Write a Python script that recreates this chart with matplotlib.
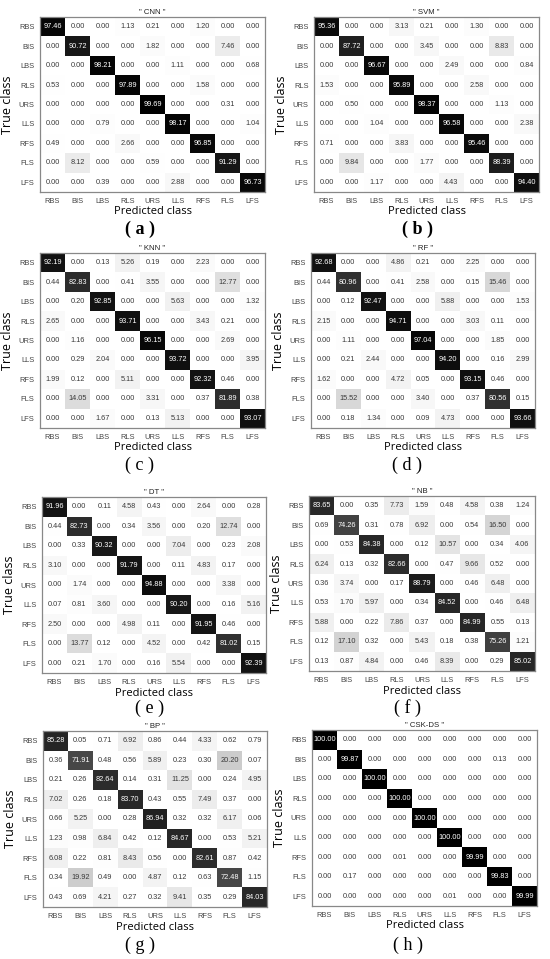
import numpy as np
import matplotlib
matplotlib.use("Agg")
import matplotlib.pyplot as plt

classes = ["RBS", "BIS", "LBS", "RLS", "URS", "LLS", "RFS", "FLS", "LFS"]

cnn = [
    [97.46, 0.00, 0.00, 1.13, 0.21, 0.00, 1.20, 0.00, 0.00],
    [0.00, 90.72, 0.00, 0.00, 1.82, 0.00, 0.00, 7.46, 0.00],
    [0.00, 0.00, 98.21, 0.00, 0.00, 1.11, 0.00, 0.00, 0.68],
    [0.53, 0.00, 0.00, 97.89, 0.00, 0.00, 1.58, 0.00, 0.00],
    [0.00, 0.00, 0.00, 0.00, 99.69, 0.00, 0.00, 0.31, 0.00],
    [0.00, 0.00, 0.79, 0.00, 0.00, 98.17, 0.00, 0.00, 1.04],
    [0.49, 0.00, 0.00, 2.66, 0.00, 0.00, 96.85, 0.00, 0.00],
    [0.00, 8.12, 0.00, 0.00, 0.59, 0.00, 0.00, 91.29, 0.00],
    [0.00, 0.00, 0.39, 0.00, 0.00, 2.88, 0.00, 0.00, 96.73],
]
svm = [
    [95.36, 0.00, 0.00, 3.13, 0.21, 0.00, 1.30, 0.00, 0.00],
    [0.00, 87.72, 0.00, 0.00, 3.45, 0.00, 0.00, 8.83, 0.00],
    [0.00, 0.00, 96.67, 0.00, 0.00, 2.49, 0.00, 0.00, 0.84],
    [1.53, 0.00, 0.00, 95.89, 0.00, 0.00, 2.58, 0.00, 0.00],
    [0.00, 0.50, 0.00, 0.00, 98.37, 0.00, 0.00, 1.13, 0.00],
    [0.00, 0.00, 1.04, 0.00, 0.00, 96.58, 0.00, 0.00, 2.38],
    [0.71, 0.00, 0.00, 3.83, 0.00, 0.00, 95.46, 0.00, 0.00],
    [0.00, 9.84, 0.00, 0.00, 1.77, 0.00, 0.00, 88.39, 0.00],
    [0.00, 0.00, 1.17, 0.00, 0.00, 4.43, 0.00, 0.00, 94.40],
]
knn = [
    [92.19, 0.00, 0.13, 5.26, 0.19, 0.00, 2.23, 0.00, 0.00],
    [0.44, 82.83, 0.00, 0.41, 3.55, 0.00, 0.00, 12.77, 0.00],
    [0.00, 0.20, 92.85, 0.00, 0.00, 5.63, 0.00, 0.00, 1.32],
    [2.65, 0.00, 0.00, 93.71, 0.00, 0.00, 3.43, 0.21, 0.00],
    [0.00, 1.16, 0.00, 0.00, 96.15, 0.00, 0.00, 2.69, 0.00],
    [0.00, 0.29, 2.04, 0.00, 0.00, 93.72, 0.00, 0.00, 3.95],
    [1.99, 0.12, 0.00, 5.11, 0.00, 0.00, 92.32, 0.46, 0.00],
    [0.00, 14.05, 0.00, 0.00, 3.31, 0.00, 0.37, 81.89, 0.38],
    [0.00, 0.00, 1.67, 0.00, 0.13, 5.13, 0.00, 0.00, 93.07],
]
rf = [
    [92.68, 0.00, 0.00, 4.86, 0.21, 0.00, 2.25, 0.00, 0.00],
    [0.44, 80.96, 0.00, 0.41, 2.58, 0.00, 0.15, 15.46, 0.00],
    [0.00, 0.12, 92.47, 0.00, 0.00, 5.88, 0.00, 0.00, 1.53],
    [2.15, 0.00, 0.00, 94.71, 0.00, 0.00, 3.03, 0.11, 0.00],
    [0.00, 1.11, 0.00, 0.00, 97.04, 0.00, 0.00, 1.85, 0.00],
    [0.00, 0.21, 2.44, 0.00, 0.00, 94.20, 0.00, 0.16, 2.99],
    [1.62, 0.00, 0.00, 4.72, 0.05, 0.00, 93.15, 0.46, 0.00],
    [0.00, 15.52, 0.00, 0.00, 3.40, 0.00, 0.37, 80.56, 0.15],
    [0.00, 0.18, 1.34, 0.00, 0.09, 4.73, 0.00, 0.00, 93.66],
]
dt = [
    [91.96, 0.00, 0.11, 4.58, 0.43, 0.00, 2.64, 0.00, 0.28],
    [0.44, 82.73, 0.00, 0.34, 3.56, 0.00, 0.20, 12.74, 0.00],
    [0.00, 0.33, 90.32, 0.00, 0.00, 7.04, 0.00, 0.23, 2.08],
    [3.10, 0.00, 0.00, 91.79, 0.00, 0.11, 4.83, 0.17, 0.00],
    [0.00, 1.74, 0.00, 0.00, 94.88, 0.00, 0.00, 3.38, 0.00],
    [0.07, 0.81, 3.60, 0.00, 0.00, 90.20, 0.00, 0.16, 5.16],
    [2.50, 0.00, 0.00, 4.98, 0.11, 0.00, 91.95, 0.46, 0.00],
    [0.00, 13.77, 0.12, 0.00, 4.52, 0.00, 0.42, 81.02, 0.15],
    [0.00, 0.21, 1.70, 0.00, 0.16, 5.54, 0.00, 0.00, 92.39],
]
nb = [
    [83.65, 0.00, 0.35, 7.73, 1.59, 0.48, 4.58, 0.38, 1.24],
    [0.69, 74.26, 0.31, 0.78, 6.92, 0.00, 0.54, 16.50, 0.00],
    [0.00, 0.53, 84.38, 0.00, 0.12, 10.57, 0.00, 0.34, 4.06],
    [6.24, 0.13, 0.32, 82.66, 0.00, 0.47, 9.66, 0.52, 0.00],
    [0.36, 3.74, 0.00, 0.17, 88.79, 0.00, 0.46, 6.48, 0.00],
    [0.53, 1.70, 5.97, 0.00, 0.34, 84.52, 0.00, 0.46, 6.48],
    [5.88, 0.00, 0.22, 7.86, 0.37, 0.00, 84.99, 0.55, 0.13],
    [0.12, 17.10, 0.32, 0.00, 5.43, 0.18, 0.38, 75.26, 1.21],
    [0.13, 0.87, 4.84, 0.00, 0.46, 8.39, 0.00, 0.29, 85.02],
]
bp = [
    [85.28, 0.05, 0.71, 6.92, 0.86, 0.44, 4.33, 0.62, 0.79],
    [0.36, 71.91, 0.48, 0.56, 5.89, 0.23, 0.30, 20.20, 0.07],
    [0.21, 0.26, 82.64, 0.14, 0.31, 11.25, 0.00, 0.24, 4.95],
    [7.02, 0.26, 0.18, 83.70, 0.43, 0.55, 7.49, 0.37, 0.00],
    [0.66, 5.25, 0.00, 0.28, 86.94, 0.32, 0.32, 6.17, 0.06],
    [1.23, 0.98, 6.84, 0.42, 0.12, 84.67, 0.00, 0.53, 5.21],
    [6.08, 0.22, 0.81, 8.43, 0.56, 0.00, 82.61, 0.87, 0.42],
    [0.34, 19.92, 0.49, 0.00, 4.87, 0.12, 0.63, 72.48, 1.15],
    [0.43, 0.69, 4.21, 0.27, 0.32, 9.41, 0.35, 0.29, 84.03],
]
cskds = [
    [100.00, 0.00, 0.00, 0.00, 0.00, 0.00, 0.00, 0.00, 0.00],
    [0.00, 99.87, 0.00, 0.00, 0.00, 0.00, 0.00, 0.13, 0.00],
    [0.00, 0.00, 100.00, 0.00, 0.00, 0.00, 0.00, 0.00, 0.00],
    [0.00, 0.00, 0.00, 100.00, 0.00, 0.00, 0.00, 0.00, 0.00],
    [0.00, 0.00, 0.00, 0.00, 100.00, 0.00, 0.00, 0.00, 0.00],
    [0.00, 0.00, 0.00, 0.00, 0.00, 100.00, 0.00, 0.00, 0.00],
    [0.00, 0.00, 0.00, 0.01, 0.00, 0.00, 99.99, 0.00, 0.00],
    [0.00, 0.17, 0.00, 0.00, 0.00, 0.00, 0.00, 99.83, 0.00],
    [0.00, 0.00, 0.00, 0.00, 0.00, 0.01, 0.00, 0.00, 99.99],
]

model_names = ["CNN", "SVM", "KNN", "RF", "DT", "NB", "BP", "CSK-DS"]
panel_letters = ["a", "b", "c", "d", "e", "f", "g", "h"]
matrices = [cnn, svm, knn, rf, dt, nb, bp, cskds]

W, H = 550, 959
fig = plt.figure(figsize=(W / 100, H / 100), dpi=100)
fig.patch.set_facecolor("white")

# axes boxes in pixels: (x0, y0, x1, y1)
boxes = [
    (40, 17, 265, 192), (314, 17, 539, 192),
    (40, 253, 265, 428), (311, 253, 535, 428),
    (42, 497, 266, 673), (309, 496, 535, 671),
    (43, 731, 267, 907), (312, 730, 537, 906),
]
label_pos = [
    (140, 229), (417, 229), (140, 465), (407, 465),
    (150, 708), (408, 708), (140, 945), (408, 945),
]

num_font = "Liberation Sans"
lab_font = "Open Sans"

for i, (name, letter, mat, box) in enumerate(zip(model_names, panel_letters, matrices, boxes)):
    m = np.array(mat)
    x0, y0, x1, y1 = box
    ax = fig.add_axes([x0 / W, 1 - y1 / H, (x1 - x0) / W, (y1 - y0) / H])
    ax.imshow(m, cmap="gray_r", vmin=0, vmax=100, aspect="auto", interpolation="nearest")
    for r in range(9):
        for c in range(9):
            v = m[r, c]
            col = "white" if v > 50 else "#3a3a3a"
            ax.text(c, r, f"{v:.2f}", ha="center", va="center", fontsize=5.3,
                    color=col, family=num_font)
    ax.set_xticks(range(9))
    ax.set_yticks(range(9))
    ax.set_xticklabels(classes, fontsize=5.4, color="#444444", family=num_font)
    ax.set_yticklabels(classes, fontsize=5.4, color="#444444", family=num_font)
    ax.tick_params(length=0, pad=4)
    for s in ax.spines.values():
        s.set_color("#888888")
        s.set_linewidth(0.9)
    ax.set_title(f'" {name} "', fontsize=5.6, color="#222222", pad=2.5, family=num_font)
    ax.set_ylabel("True class", fontsize=9, labelpad=3, family=lab_font)
    cx = (x0 + x1) / 2
    fig.text(cx / W, 1 - (y1 + 20) / H, "Predicted class", ha="center", va="center",
             fontsize=8, family=lab_font)
    lx, ly = label_pos[i]
    bold = "bold" if i < 2 else "normal"
    fig.text(lx / W, 1 - ly / H, f"( {letter} )", ha="center", va="center",
             fontsize=13, family="Liberation Serif", fontweight=bold)

fig.savefig("out.png", dpi=100, facecolor="white")
